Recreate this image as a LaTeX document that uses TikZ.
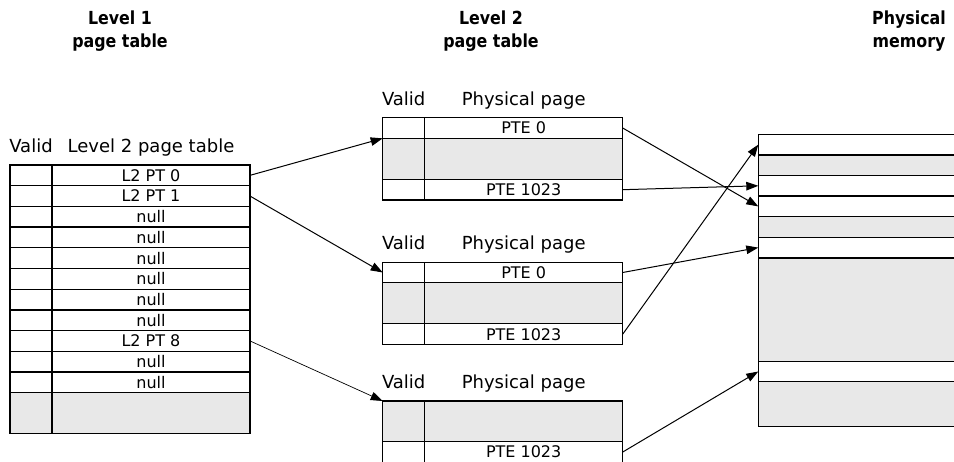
\documentclass[tikz,border=0pt]{standalone}
\usepackage{fontspec}
\setmainfont{DejaVu Sans}
\newfontfamily\titlefont[FakeStretch=0.88]{DejaVu Sans}
\usetikzlibrary{arrows.meta,positioning}
\definecolor{cellgray}{HTML}{E8E8E8}

\tikzset{
  cell/.style={draw, line width=1.25pt, inner sep=0pt, outer sep=0pt, minimum height=20.7pt, fill=white, font=\fontsize{16}{19}\selectfont},
  vcell/.style={cell, minimum width=42pt},
  ecell/.style={cell, minimum width=198pt},
  mcell/.style={cell, minimum width=242pt, minimum height=20.6pt},
  blank/.style={fill=cellgray, minimum height=#1},
  hdr/.style={inner sep=0pt, font=\fontsize{18}{21}\selectfont},
  heading/.style={align=center, inner sep=0pt, font=\titlefont\bfseries\fontsize{18}{22.7}\selectfont},
  ptr/.style={-{Triangle[length=12pt,width=8.5pt]}, line width=1pt},
}

\begin{document}
\begin{tikzpicture}[x=1pt,y=-1pt]
	\useasboundingbox (0,0) rectangle (954,462);
	
	% titles
	\node[heading] (ttl1) at (120,31) {Level 1\\page table};
	\node[heading] (ttl2) at (491,31) {Level 2\\page table};
	\node[heading] (ttl3) at (909,31) {Physical\\memory};
	
	% level 1 page table
	\foreach \txt [count=\i from 0] in {L2 PT 0, L2 PT 1, null, null, null, null, null, null, L2 PT 8, null, null} {
		\node[vcell] (l1v\i) at (31, 175.35+20.7*\i) {};
		\node[ecell, right=0pt of l1v\i] (l1e\i) {\txt};
	}
	\node[vcell, blank=40.6pt, below=0pt of l1v10] (l1v11) {};
	\node[ecell, blank=40.6pt, right=0pt of l1v11] (l1e11) {};
	\node[hdr, above=12.3pt of l1v0.north, anchor=base] (h1v) {Valid};
	\node[hdr, above=12.3pt of l1e0.north, anchor=base] (h1e) {Level 2 page table};
	
	% level 2 page tables
	\foreach \t/\y in {1/128, 2/272.5} {
		\node[vcell] (t\t v0) at (403.7, \y) {};
		\node[ecell, right=0pt of t\t v0] (t\t e0) {PTE 0};
		\node[vcell, blank=41pt, below=0pt of t\t v0] (t\t v1) {};
		\node[ecell, blank=41pt, right=0pt of t\t v1] (t\t e1) {};
		\node[vcell, below=0pt of t\t v1] (t\t v2) {};
		\node[ecell, right=0pt of t\t v2] (t\t e2) {PTE 1023};
	}
	\node[vcell, blank=40.7pt] (t3v0) at (403.7, 421.35) {};
	\node[ecell, blank=40.7pt, right=0pt of t3v0] (t3e0) {};
	\node[vcell, below=0pt of t3v0] (t3v1) {};
	\node[ecell, right=0pt of t3v1] (t3e1) {PTE 1023};
	\foreach \t in {1,2,3} {
		\node[hdr, above=12.3pt of t\t v0.north, anchor=base] (h\t v) {Valid};
		\node[hdr, above=12.3pt of t\t e0.north, anchor=base] (h\t e) {Physical page};
	}
	
	% physical memory
	\node[mcell] (mem0) at (879.3,144.6) {};
	\node[mcell, blank=20.6pt, below=0pt of mem0] (mem1) {};
	\node[mcell, below=0pt of mem1] (mem2) {};
	\node[mcell, below=0pt of mem2] (mem3) {};
	\node[mcell, blank=20.6pt, below=0pt of mem3] (mem4) {};
	\node[mcell, below=0pt of mem4] (mem5) {};
	\node[mcell, blank=103.3pt, below=0pt of mem5] (mem6) {};
	\node[mcell, below=0pt of mem6] (mem7) {};
	\node[mcell, blank=45pt, below=0pt of mem7] (mem8) {};
	
	% pointers
	\draw[ptr] (l1e0.east) -- (t1v0.south west);
	\draw[ptr] (l1e1.east) -- (t2v0.west);
	\draw[ptr, line width=0.7pt] (l1e8.east) -- (t3v0.north west);
	\draw[ptr] (t1e0.east) -- (mem3.west);
	\draw[ptr] (t1e2.east) -- (mem2.west);
	\draw[ptr] (t2e0.east) -- (mem5.west);
	\draw[ptr] (t2e2.east) -- (mem0.west);
	\draw[ptr] (t3e1.east) -- (mem7.west);
	
\end{tikzpicture}
\end{document}
